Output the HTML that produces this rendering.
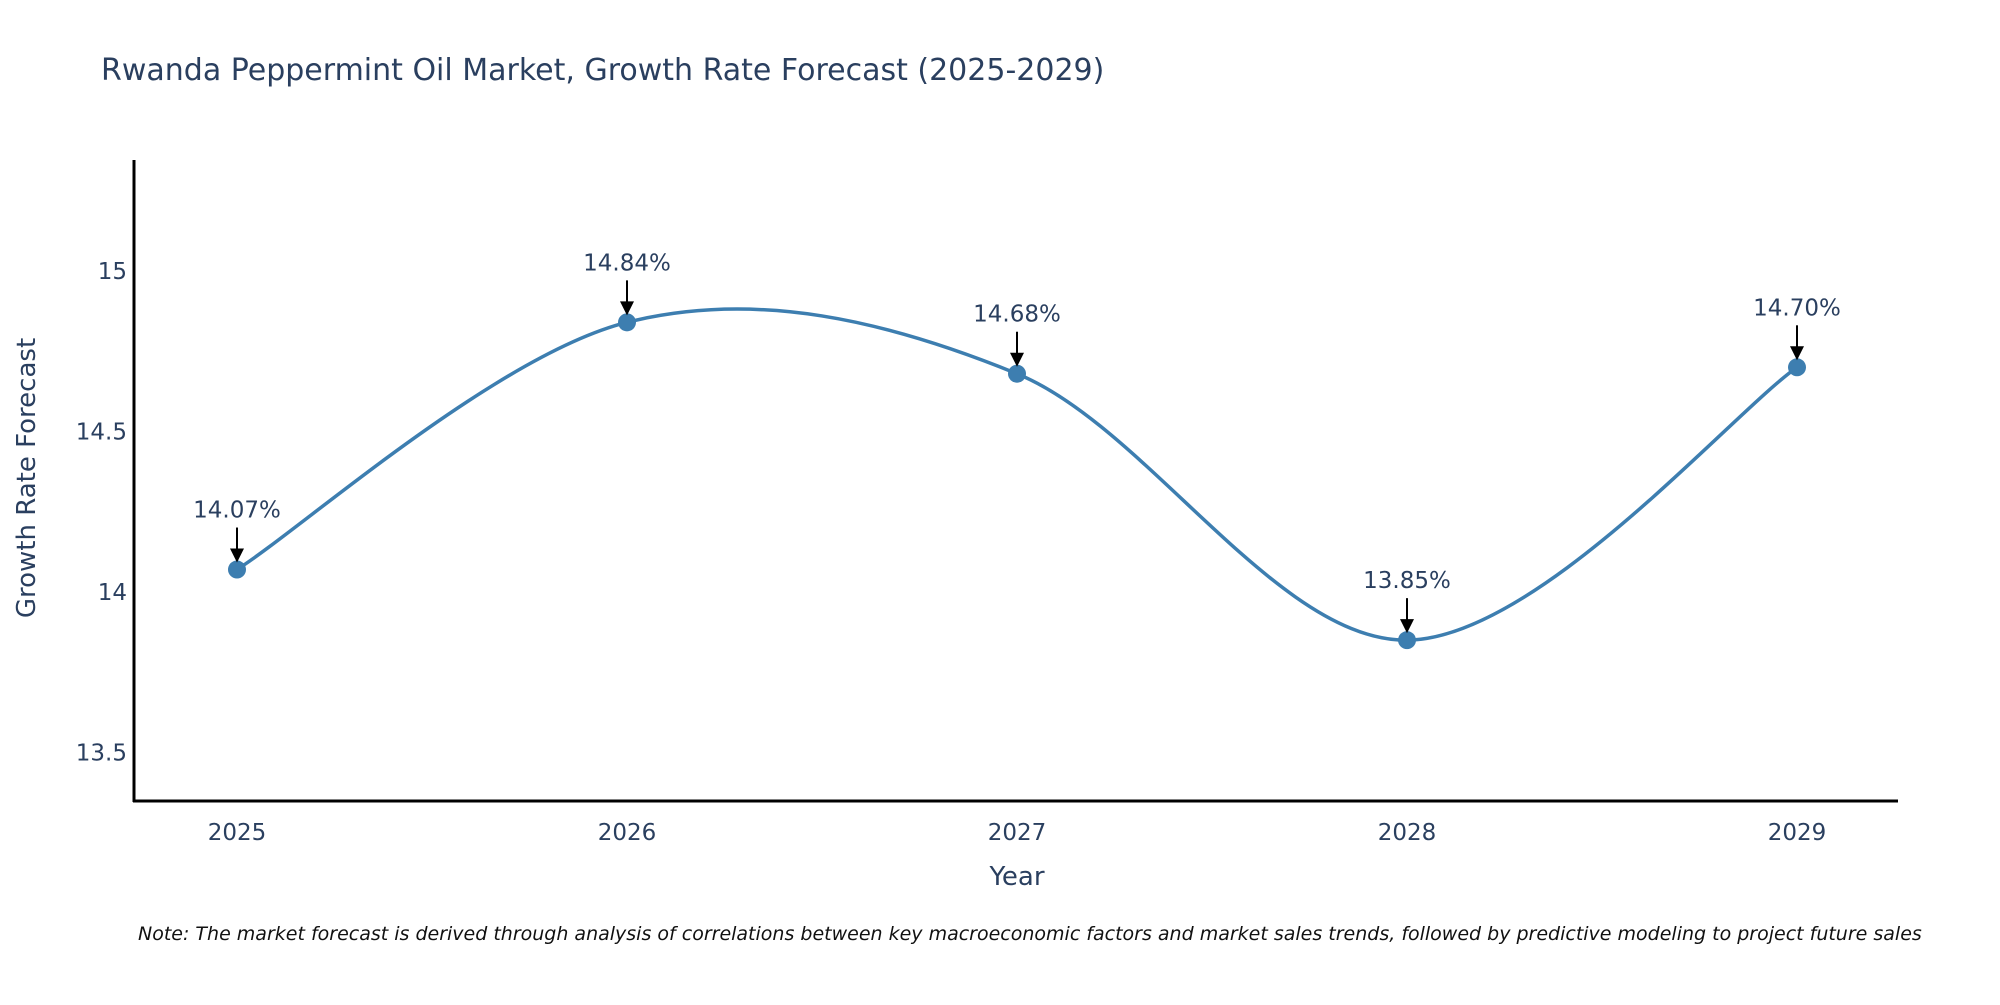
<!DOCTYPE html>
<html><head><meta charset="utf-8"><style>
body{margin:0;background:#fff;}
svg text{font-family:"DejaVu Sans","Liberation Sans",sans-serif;fill:#2a3f5f;}
</style></head><body>
<svg id="chart" width="2000" height="1000" xmlns="http://www.w3.org/2000/svg">
<text x="101" y="80" font-size="30">Rwanda Peppermint Oil Market, Growth Rate Forecast (2025-2029)</text>
<g id="yticks"></g><g id="xticks"></g>
<line x1="134" y1="160" x2="134" y2="802" stroke="#000" stroke-width="3"/>
<line x1="133" y1="801" x2="1898" y2="801" stroke="#000" stroke-width="3"/>
<path id="line" fill="none" stroke="#3d7eb0" stroke-width="3.5"/>
<g id="marks"></g>
<text x="1017" y="885" font-size="26" text-anchor="middle">Year</text>
<text transform="translate(35,478) rotate(-90)" font-size="26" text-anchor="middle">Growth Rate Forecast</text>
<text x="138" y="940" font-size="19" font-style="italic" style="fill:#111">Note: The market forecast is derived through analysis of correlations between key macroeconomic factors and market sales trends, followed by predictive modeling to project future sales</text>
</svg>
<script>
const years=["2025","2026","2027","2028","2029"];
const values=[14.07,14.84,14.68,13.85,14.70];
const labels=["14.07%","14.84%","14.68%","13.85%","14.70%"];
const yTicks=[13.5,14,14.5,15];
const NS="http://www.w3.org/2000/svg";
const xs=i=>237+i*390;
const ys=v=>592-(v-14)*321;
function mk(t,a,p){const e=document.createElementNS(NS,t);for(const k in a)e.setAttribute(k,a[k]);p.appendChild(e);return e;}
const yt=document.getElementById('yticks');
yTicks.forEach(v=>{const t=mk('text',{x:127,y:ys(v)+8,'font-size':23,'text-anchor':'end'},yt);t.textContent=String(v);

});
const xt=document.getElementById('xticks');
years.forEach((y,i)=>{const t=mk('text',{x:xs(i),y:840,'font-size':23,'text-anchor':'middle'},xt);t.textContent=y;

});
const P=values.map((v,i)=>[xs(i),ys(v)]);
let d=`M${P[0][0]},${P[0][1]}`;const s=1/6;
for(let i=0;i<P.length-1;i++){const p0=P[i-1]||P[i],p1=P[i],p2=P[i+1],p3=P[i+2]||P[i+1];
const c1=[p1[0]+(p2[0]-p0[0])*s,p1[1]+(p2[1]-p0[1])*s];
const c2=[p2[0]-(p3[0]-p1[0])*s,p2[1]-(p3[1]-p1[1])*s];
d+=` C${c1[0]},${c1[1]} ${c2[0]},${c2[1]} ${p2[0]},${p2[1]}`;}
document.getElementById('line').setAttribute('d',d);
const mg=document.getElementById('marks');
values.forEach((v,i)=>{const x=xs(i),y=ys(v);
const c=mk('circle',{cx:x,cy:y,r:9,fill:'#3d7eb0'},mg);


const l=mk('line',{x1:x,y1:y-42,x2:x,y2:y-20,stroke:'#000','stroke-width':2},mg);


const a=mk('polygon',{points:`${x-7},${y-21} ${x+7},${y-21} ${x},${y-7}`,fill:'#000'},mg);


const t=mk('text',{x:x,y:y-52,'font-size':23,'text-anchor':'middle'},mg);t.textContent=labels[i];

});
</script>
</body></html>
